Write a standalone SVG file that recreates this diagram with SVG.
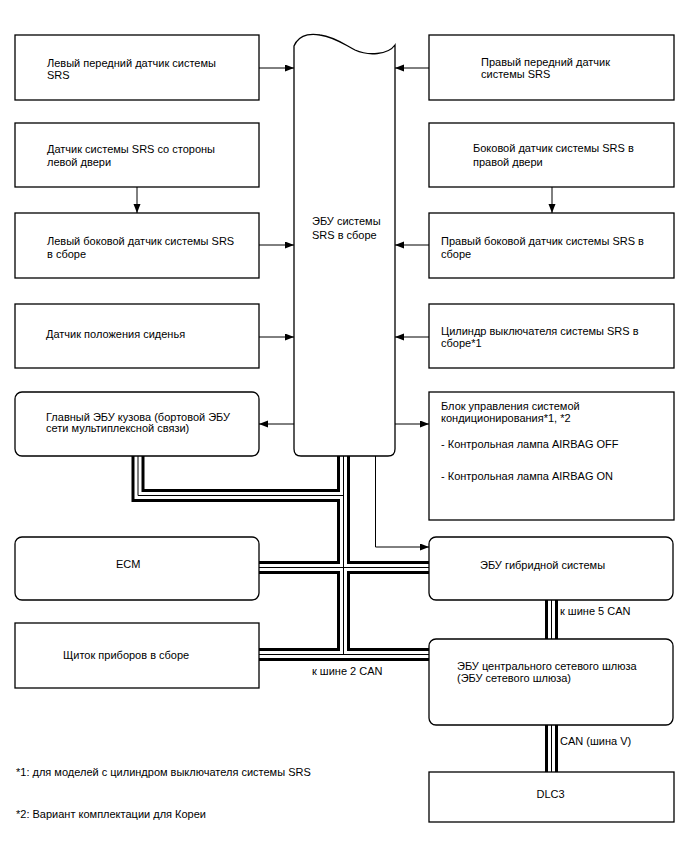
<svg xmlns="http://www.w3.org/2000/svg" width="688" height="852" viewBox="0 0 688 852">
<defs>
<style>
text{font-family:"Liberation Sans",Arial,sans-serif;font-size:11px;fill:#000}
.box{fill:#fff;stroke:#000;stroke-width:1.3}
.ln{fill:none;stroke:#000;stroke-width:1}
.b1{fill:none;stroke:#000;stroke-width:13}
.b2{fill:none;stroke:#fff;stroke-width:7}
.b3{fill:none;stroke:#000;stroke-width:1}
</style>
<marker id="ah" markerUnits="userSpaceOnUse" markerWidth="10" markerHeight="8" refX="9" refY="3.5" orient="auto">
<path d="M0,0 L9,3.5 L0,7 z" fill="#000"/>
</marker>
</defs>
<rect width="688" height="852" fill="#fff"/>
<g id="connectors">
<g id="buses">
<path class="b1" d="M138,456 V495.5 H343.5 M343.5,456 V654.5 M259,567.5 H429 M259,654.5 H429 M551.5,600 V639 M551.5,725 V772"/>
<path class="b2" d="M138,456 V495.5 H343.5 M343.5,456 V654.5 M259,567.5 H429 M259,654.5 H429 M551.5,600 V639 M551.5,725 V772"/>
<path class="b3" d="M138,456 V495.5 H343.5 M343.5,456 V654.5 M259,567.5 H429 M259,654.5 H429 M551.5,600 V639 M551.5,725 V772"/>
</g>
</g>
<g id="nodes">
<g id="n-left1"><rect class="box" x="15" y="35" width="244" height="65"/><text x="47" y="67">Левый передний датчик системы</text><text x="47" y="79">SRS</text></g>
<g id="n-left2"><rect class="box" x="15" y="123" width="244" height="64"/><text x="47" y="153">Датчик системы SRS со стороны</text><text x="47" y="165.5">левой двери</text></g>
<g id="n-left3"><rect class="box" x="15" y="213" width="244" height="65"/><text x="47" y="245">Левый боковой датчик системы SRS</text><text x="47" y="257.5">в сборе</text></g>
<g id="n-left4"><rect class="box" x="15" y="304" width="244" height="64"/><text x="46" y="338">Датчик положения сиденья</text></g>
<g id="n-left5"><rect class="box" x="15" y="392" width="244" height="64" rx="7"/><text x="46" y="420.5">Главный ЭБУ кузова (бортовой ЭБУ</text><text x="46" y="432">сети мультиплексной связи)</text></g>
<g id="n-srs"><path class="box" d="M294,46 C300,32 315,34 320,35 C335,37 345,45 355,50 C368,56 388,55 395,45 V449 Q395,456 388,456 H301 Q294,456 294,449 Z"/><text x="312" y="225">ЭБУ системы</text><text x="312" y="239">SRS в сборе</text></g>
<g id="n-right1"><rect class="box" x="429" y="35" width="245" height="65"/><text x="481" y="66">Правый передний датчик</text><text x="481" y="77.5">системы SRS</text></g>
<g id="n-right2"><rect class="box" x="429" y="123" width="245" height="64"/><text x="473" y="152">Боковой датчик системы SRS в</text><text x="473" y="165.5">правой двери</text></g>
<g id="n-right3"><rect class="box" x="429" y="213" width="245" height="65"/><text x="441" y="245">Правый боковой датчик системы SRS в</text><text x="441" y="257.5">сборе</text></g>
<g id="n-right4"><rect class="box" x="429" y="304" width="245" height="64"/><text x="441" y="335">Цилиндр выключателя системы SRS в</text><text x="441" y="346.5">сборе*1</text></g>
<g id="n-right5"><rect class="box" x="429" y="392" width="245" height="128"/><text x="441" y="410">Блок управления системой</text><text x="441" y="422">кондиционирования*1, *2</text><text x="441" y="448">- Контрольная лампа AIRBAG OFF</text><text x="441" y="480">- Контрольная лампа AIRBAG ON</text></g>
<g id="n-ecm"><rect class="box" x="15" y="537" width="244" height="63" rx="7"/><text x="116" y="568">ECM</text></g>
<g id="n-hybrid"><rect class="box" x="429" y="537" width="244" height="63" rx="7"/><text x="480" y="569">ЭБУ гибридной системы</text></g>
<g id="n-cluster"><rect class="box" x="15" y="623" width="244" height="65"/><text x="63" y="659">Щиток приборов в сборе</text></g>
<g id="n-gateway"><rect class="box" x="429" y="639" width="244" height="86" rx="7"/><text x="457" y="670">ЭБУ центрального сетевого шлюза</text><text x="457" y="682">(ЭБУ сетевого шлюза)</text></g>
<g id="n-dlc3"><rect class="box" x="429" y="772" width="245" height="50"/><text x="550.5" y="798" text-anchor="middle">DLC3</text></g>
</g>
<g id="arrows">
<path class="ln" marker-end="url(#ah)" d="M259,68 H294"/>
<path class="ln" marker-end="url(#ah)" d="M137,187 V213"/>
<path class="ln" marker-end="url(#ah)" d="M259,245 H294"/>
<path class="ln" marker-end="url(#ah)" d="M259,337 H294"/>
<path class="ln" marker-end="url(#ah)" d="M294,424 H259"/>
<path class="ln" marker-end="url(#ah)" d="M429,68 H395"/>
<path class="ln" marker-end="url(#ah)" d="M552,187 V213"/>
<path class="ln" marker-end="url(#ah)" d="M429,245 H395"/>
<path class="ln" marker-end="url(#ah)" d="M429,337 H395"/>
<path class="ln" marker-end="url(#ah)" d="M395,424 H429"/>
<path class="ln" marker-end="url(#ah)" d="M375.5,456 V547 H429"/>
</g>
<g id="labels">
<text x="312" y="675">к шине 2 CAN</text>
<text x="560" y="615">к шине 5 CAN</text>
<text x="560" y="745">CAN (шина V)</text>
<text x="16" y="776">*1: для моделей с цилиндром выключателя системы SRS</text>
<text x="16" y="818">*2: Вариант комплектации для Кореи</text>
</g>
</svg>
